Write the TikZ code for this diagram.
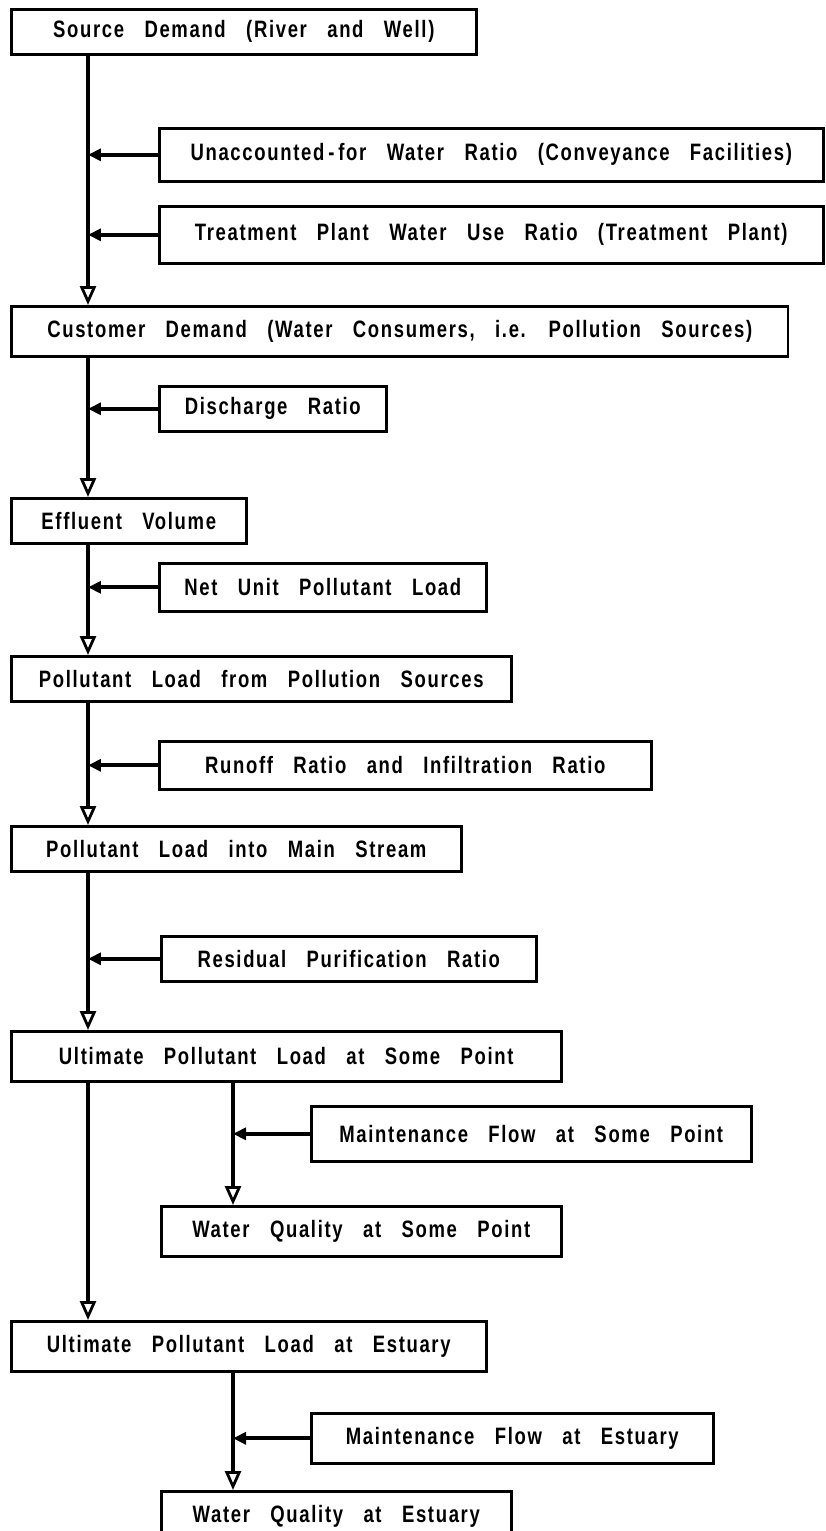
\documentclass[tikz,border=0pt]{standalone}
\usepackage{fontspec}
\setmainfont{Liberation Sans}[FakeStretch=0.78,LetterSpace=7,WordSpace=3]
\usetikzlibrary{arrows.meta}
\tikzset{
        box/.style={draw, line width=1.5pt, anchor=north west, minimum height=0.9cm, inner sep=0pt,
                font=\fontsize{13.5}{15}\selectfont\bfseries}, % every block of the chart
        main/.style={line width=2.2pt, -{Triangle[open,length=0.38cm,width=0.32cm,line width=1.6pt]}}, % flow down the chart
        side/.style={line width=2.2pt, -{Triangle[length=0.26cm,width=0.24cm]}}, % ratio fed in from the side
}
\begin{document}
\begin{tikzpicture}[x=0.02cm, y=-0.02cm]
\useasboundingbox (0,0) rectangle (825,1531);
\coordinate (t1) at (88,0);
\coordinate (t2) at (233,0);
\node[box, minimum width=9.3cm] (src) at (10,8) {Source Demand (River and Well)};
\node[box, minimum width=13.28cm, minimum height=1.06cm] (unacc) at (158,127) {Unaccounted\,-\,for Water Ratio (Conveyance Facilities)};
\node[box, minimum width=13.28cm, minimum height=1.14cm] (treat) at (158,205) {Treatment Plant Water Use Ratio (Treatment Plant)};
\node[box, minimum width=15.54cm, minimum height=1cm] (cust) at (10,305) {Customer Demand (Water Consumers, i.e. Pollution Sources)};
\node[box, minimum width=4.54cm] (disch) at (158,385) {Discharge Ratio};
\node[box, minimum width=4.7cm] (eff) at (10,497) {Effluent Volume};
\node[box, minimum width=6.54cm, minimum height=0.96cm] (netunit) at (158,562) {Net Unit Pollutant Load};
\node[box, minimum width=10cm] (plsrc) at (10,655) {Pollutant Load from Pollution Sources};
\node[box, minimum width=9.84cm, minimum height=0.96cm] (runoff) at (158,740) {Runoff Ratio and Infiltration Ratio};
\node[box, minimum width=9cm] (plmain) at (10,825) {Pollutant Load into Main Stream};
\node[box, minimum width=7.5cm] (resid) at (160,935) {Residual Purification Ratio};
\node[box, minimum width=11cm, minimum height=1cm] (ultpt) at (10,1030) {Ultimate Pollutant Load at Some Point};
\node[box, minimum width=8.8cm, minimum height=1.1cm] (mfpt) at (310,1105) {Maintenance Flow at Some Point};
\node[box, minimum width=8cm, minimum height=1cm] (wqpt) at (160,1205) {Water Quality at Some Point};
\node[box, minimum width=9.5cm, minimum height=1cm] (ultest) at (10,1320) {Ultimate Pollutant Load at Estuary};
\node[box, minimum width=8.04cm, minimum height=1cm] (mfest) at (310,1412) {Maintenance Flow at Estuary};
\node[box, minimum width=7cm, minimum height=1cm] (wqest) at (160,1490) {Water Quality at Estuary};
% main line down the left
\draw[main] (src.south -| t1) -- (cust.north -| t1);
\draw[main] (cust.south -| t1) -- (eff.north -| t1);
\draw[main] (eff.south -| t1) -- (plsrc.north -| t1);
\draw[main] (plsrc.south -| t1) -- (plmain.north -| t1);
\draw[main] (plmain.south -| t1) -- (ultpt.north -| t1);
\draw[main] (ultpt.south -| t1) -- (ultest.north -| t1);
\draw[side] (unacc.west) -- (unacc.west -| t1);
\draw[side] (treat.west) -- (treat.west -| t1);
\draw[side] (disch.west) -- (disch.west -| t1);
\draw[side] (netunit.west) -- (netunit.west -| t1);
\draw[side] (runoff.west) -- (runoff.west -| t1);
\draw[side] (resid.west) -- (resid.west -| t1);
% branches to water quality
\draw[main] (ultpt.south -| t2) -- (wqpt.north -| t2);
\draw[side] (mfpt.west) -- (mfpt.west -| t2);
\draw[main] (ultest.south -| t2) -- (wqest.north -| t2);
\draw[side] (mfest.west) -- (mfest.west -| t2);
\end{tikzpicture}
\end{document}
